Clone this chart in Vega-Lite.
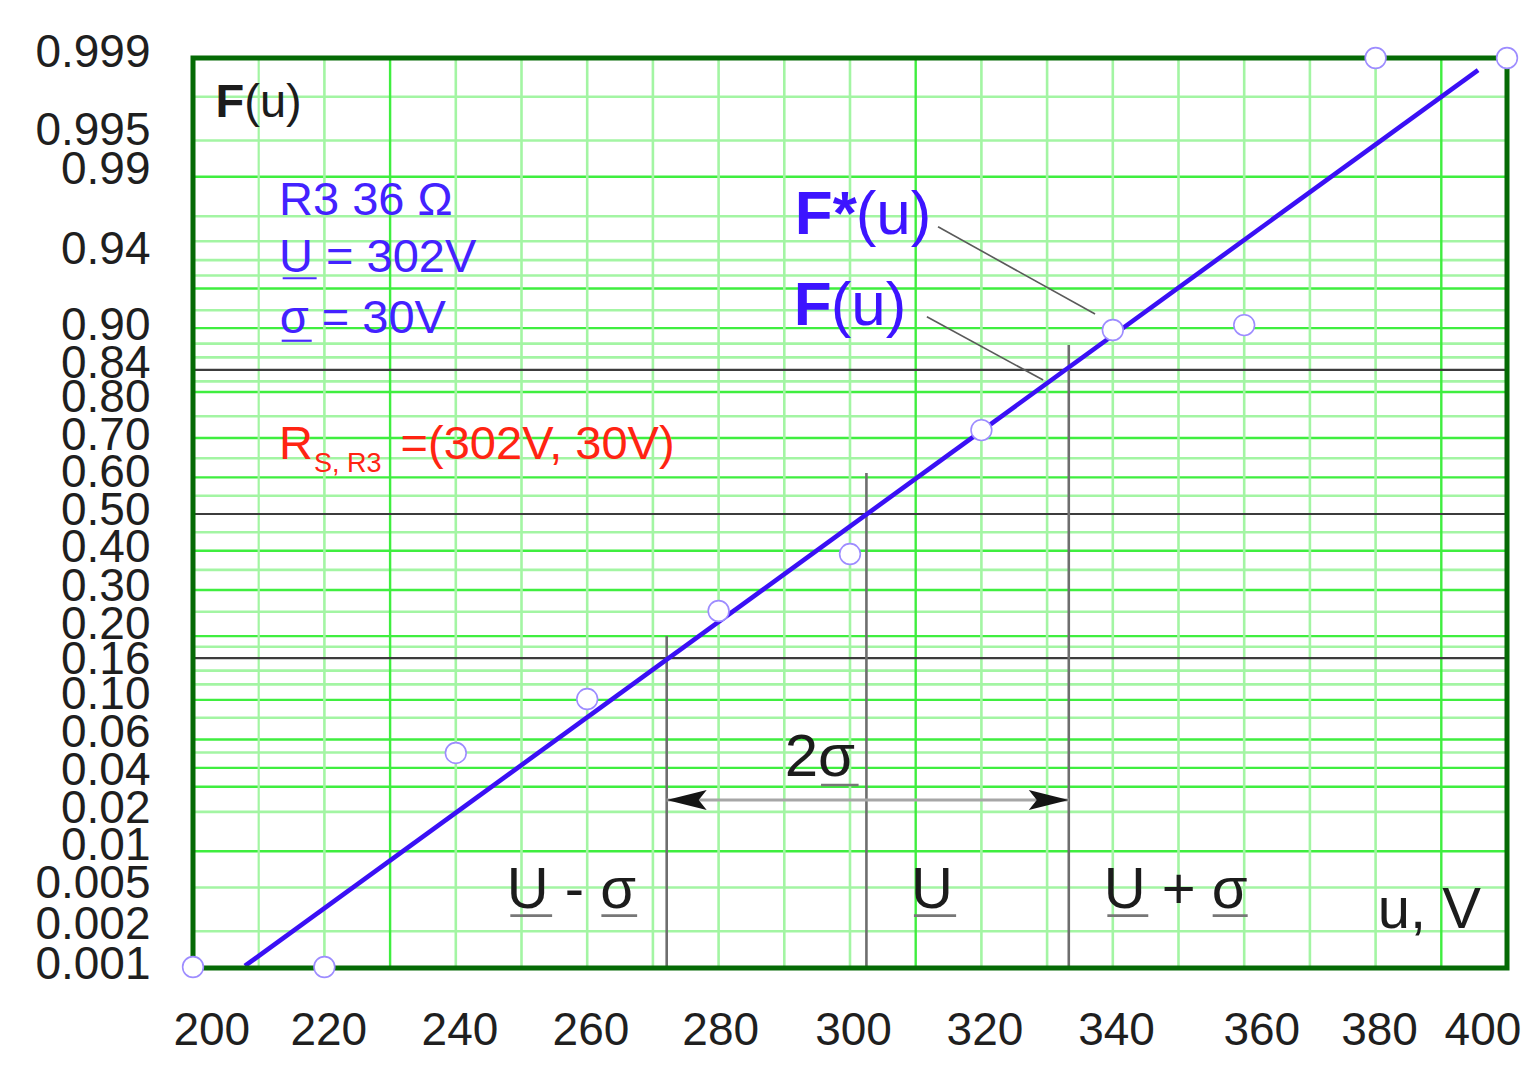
{
  "$schema": "https://vega.github.io/schema/vega-lite/v6.json",
  "width": 1314,
  "height": 910,
  "autosize": {"type": "none"},
  "padding": {"left": 193, "top": 58, "right": 32, "bottom": 107},
  "background": "white",
  "config": {
    "view": {"stroke": null},
    "font": "Liberation Sans",
    "axis": {"grid": false, "domain": false, "ticks": false, "tickSize": 0, "labelFont": "Liberation Sans", "labelFontSize": 46, "labelColor": "#1f1f1f", "labelFlush": false, "labelOverlap": false, "labelBound": false},
    "axisX": {"labelPadding": 40},
    "axisY": {"labelPadding": 43}
  },
  "datasets": {
    "hgrid": [
      {"p": 0.002, "z": -2.878, "tier": "minor"},
      {"p": 0.005, "z": -2.576, "tier": "minor"},
      {"p": 0.01, "z": -2.326, "tier": "major"},
      {"p": 0.02, "z": -2.054, "tier": "minor"},
      {"p": 0.03, "z": -1.881, "tier": "major"},
      {"p": 0.04, "z": -1.751, "tier": "major"},
      {"p": 0.05, "z": -1.645, "tier": "minor"},
      {"p": 0.06, "z": -1.555, "tier": "major"},
      {"p": 0.08, "z": -1.405, "tier": "minor"},
      {"p": 0.10, "z": -1.282, "tier": "major"},
      {"p": 0.12, "z": -1.175, "tier": "minor"},
      {"p": 0.14, "z": -1.08, "tier": "minor"},
      {"p": 0.18, "z": -0.915, "tier": "minor"},
      {"p": 0.20, "z": -0.842, "tier": "major"},
      {"p": 0.25, "z": -0.674, "tier": "minor"},
      {"p": 0.30, "z": -0.524, "tier": "major"},
      {"p": 0.35, "z": -0.385, "tier": "minor"},
      {"p": 0.40, "z": -0.253, "tier": "major"},
      {"p": 0.45, "z": -0.126, "tier": "minor"},
      {"p": 0.55, "z": 0.126, "tier": "minor"},
      {"p": 0.60, "z": 0.253, "tier": "major"},
      {"p": 0.65, "z": 0.385, "tier": "minor"},
      {"p": 0.70, "z": 0.524, "tier": "major"},
      {"p": 0.75, "z": 0.674, "tier": "minor"},
      {"p": 0.80, "z": 0.842, "tier": "major"},
      {"p": 0.82, "z": 0.915, "tier": "minor"},
      {"p": 0.86, "z": 1.08, "tier": "minor"},
      {"p": 0.88, "z": 1.175, "tier": "minor"},
      {"p": 0.90, "z": 1.282, "tier": "major"},
      {"p": 0.92, "z": 1.405, "tier": "minor"},
      {"p": 0.94, "z": 1.555, "tier": "major"},
      {"p": 0.95, "z": 1.645, "tier": "minor"},
      {"p": 0.96, "z": 1.751, "tier": "minor"},
      {"p": 0.97, "z": 1.881, "tier": "minor"},
      {"p": 0.98, "z": 2.054, "tier": "minor"},
      {"p": 0.99, "z": 2.326, "tier": "major"},
      {"p": 0.995, "z": 2.576, "tier": "minor"},
      {"p": 0.998, "z": 2.878, "tier": "minor"}
    ],
    "vgrid": [
      {"u": 210, "tier": "dark"},
      {"u": 220, "tier": "minor"},
      {"u": 230, "tier": "major"},
      {"u": 240, "tier": "minor"},
      {"u": 250, "tier": "minor"},
      {"u": 260, "tier": "minor"},
      {"u": 270, "tier": "minor"},
      {"u": 280, "tier": "minor"},
      {"u": 290, "tier": "minor"},
      {"u": 300, "tier": "minor"},
      {"u": 310, "tier": "major"},
      {"u": 320, "tier": "minor"},
      {"u": 330, "tier": "minor"},
      {"u": 340, "tier": "minor"},
      {"u": 350, "tier": "minor"},
      {"u": 360, "tier": "minor"},
      {"u": 370, "tier": "minor"},
      {"u": 380, "tier": "minor"},
      {"u": 390, "tier": "major"}
    ],
    "refh": [
      {"p": 0.16, "z": -0.994},
      {"p": 0.5, "z": 0},
      {"p": 0.84, "z": 0.994}
    ],
    "refv": [
      {"name": "U - σ", "u": 272.1, "ztop": -0.841},
      {"name": "U", "u": 302.5, "ztop": 0.283},
      {"name": "U + σ", "u": 333.3, "ztop": 1.166}
    ],
    "arrow": [{"u": 272.1, "u2": 333.3, "z": -1.972}],
    "heads": [
      {"u": 272.1, "z": -1.972, "end": "left"},
      {"u": 333.3, "z": -1.972, "end": "right"}
    ],
    "leaders": [
      {"name": "F*(u)", "u": 313.4, "z": 1.981, "u2": 337.3, "z2": 1.379},
      {"name": "F(u)", "u": 311.7, "z": 1.361, "u2": 329.4, "z2": 0.924}
    ],
    "ulBlue": [
      {"u": 213.65, "u2": 218.82, "z": 1.626},
      {"u": 213.5, "u2": 218.07, "z": 1.195}
    ],
    "ulGray": [
      {"u": 295.59, "u2": 301.31, "z": -1.869},
      {"u": 248.3, "u2": 254.66, "z": -2.77},
      {"u": 262.16, "u2": 267.6, "z": -2.77},
      {"u": 309.73, "u2": 316.15, "z": -2.77},
      {"u": 339.17, "u2": 345.4, "z": -2.77},
      {"u": 355.2, "u2": 360.53, "z": -2.77}
    ],
    "fit": [
      {"u": 207.9, "z": -3.117},
      {"u": 395.6, "z": 3.062}
    ],
    "points": [
      {"u": 200, "F": 0.001, "z": -3.124},
      {"u": 220, "F": 0.001, "z": -3.124},
      {"u": 240, "F": 0.05, "z": -1.648},
      {"u": 260, "F": 0.10, "z": -1.276},
      {"u": 280, "F": 0.25, "z": -0.669},
      {"u": 300, "F": 0.39, "z": -0.276},
      {"u": 320, "F": 0.72, "z": 0.579},
      {"u": 340, "F": 0.90, "z": 1.269},
      {"u": 360, "F": 0.905, "z": 1.303},
      {"u": 380, "F": 0.999, "z": 3.145},
      {"u": 400, "F": 0.999, "z": 3.145}
    ],
    "tBlackBold47": [{"text": "F", "u": 203.44, "z": 2.736}],
    "tBlack47": [{"text": "(u)", "u": 207.81, "z": 2.736}],
    "tBlue46": [
      {"text": "R3 36 Ω", "u": 213.09, "z": 2.062},
      {"text": "U = 302V", "u": 213.09, "z": 1.671},
      {"text": "σ = 30V", "u": 213.2, "z": 1.248}
    ],
    "tRed46": [
      {"text": "R", "u": 213.09, "z": 0.377},
      {"text": "=(302V, 30V)", "u": 231.6, "z": 0.377}
    ],
    "tRed26": [{"text": "S, R3", "u": 218.42, "z": 0.292}],
    "tBlueBold62": [
      {"text": "F*", "u": 291.6, "z": 1.931},
      {"text": "F", "u": 291.45, "z": 1.303}
    ],
    "tBlue62": [
      {"text": "(u)", "u": 300.87, "z": 1.931},
      {"text": "(u)", "u": 297.06, "z": 1.303}
    ],
    "tBlack60": [{"text": "2σ", "u": 290.05, "z": -1.807}],
    "tBlack58": [
      {"text": "U - σ", "u": 247.76, "z": -2.72},
      {"text": "U", "u": 309.27, "z": -2.72},
      {"text": "U + σ", "u": 338.62, "z": -2.72},
      {"text": "u, V", "u": 380.32, "z": -2.857}
    ]
  },
  "layer": [
    {
      "data": {"name": "points"},
      "mark": {"type": "point", "opacity": 0},
      "encoding": {
        "x": {
          "field": "u", "type": "quantitative", "title": null,
          "scale": {"domain": [200, 400], "nice": false, "zero": false},
          "axis": {
            "title": null, "orient": "bottom",
            "values": [202.79, 220.59, 240.56, 260.49, 280.24, 300.46, 320.47, 340.49, 362.6, 380.52, 396.27],
            "labelExpr": "format(round(datum.value / 20) * 20, 'd')"
          }
        },
        "y": {
          "field": "z", "type": "quantitative", "title": null,
          "scale": {"domain": [-3.131, 3.145], "nice": false, "zero": false},
          "axis": {
            "title": null, "orient": "left",
            "labelBaseline": {"condition": {"test": "datum.value > 3", "value": "alphabetic"}, "value": "middle"},
            "values": [3.083, 2.648, 2.377, 1.821, 1.303, 1.039, 0.802, 0.542, 0.283, 0.023, -0.234, -0.499, -0.763, -1.005, -1.244, -1.51, -1.772, -2.03, -2.288, -2.55, -2.828, -3.106],
            "labelExpr": "['0.999','0.995','0.99','0.94','0.90','0.84','0.80','0.70','0.60','0.50','0.40','0.30','0.20','0.16','0.10','0.06','0.04','0.02','0.01','0.005','0.002','0.001'][indexof([3.083, 2.648, 2.377, 1.821, 1.303, 1.039, 0.802, 0.542, 0.283, 0.023, -0.234, -0.499, -0.763, -1.005, -1.244, -1.51, -1.772, -2.03, -2.288, -2.55, -2.828, -3.106], datum.value)]"
          }
        }
      }
    },
    {
      "data": {"name": "hgrid"},
      "mark": {"type": "rule"},
      "encoding": {
        "y": {"field": "z", "type": "quantitative", "title": null, "scale": {"domain": [-3.131, 3.145], "nice": false, "zero": false}},
        "color": {"field": "tier", "type": "nominal", "scale": {"domain": ["minor", "major"], "range": ["#a3f5a3", "#3fee3f"]}, "legend": null},
        "strokeWidth": {"field": "tier", "type": "nominal", "scale": {"domain": ["minor", "major"], "range": [2.6, 2.2]}, "legend": null}
      }
    },
    {
      "data": {"name": "vgrid"},
      "mark": {"type": "rule"},
      "encoding": {
        "x": {"field": "u", "type": "quantitative", "title": null, "scale": {"domain": [200, 400], "nice": false, "zero": false}},
        "color": {"field": "tier", "type": "nominal", "scale": {"domain": ["minor", "major", "dark"], "range": ["#a3f5a3", "#3fee3f", "#4f9f4f"]}, "legend": null},
        "strokeWidth": {"field": "tier", "type": "nominal", "scale": {"domain": ["minor", "major", "dark"], "range": [2.6, 2.2, 2.4]}, "legend": null}
      }
    },
    {
      "data": {"name": "refh"},
      "mark": {"type": "rule", "color": "#3c3c3c", "strokeWidth": 2.2},
      "encoding": {
        "y": {"field": "z", "type": "quantitative", "title": null, "scale": {"domain": [-3.131, 3.145], "nice": false, "zero": false}}
      }
    },
    {
      "data": {"name": "refv"},
      "mark": {"type": "rule", "color": "#6e6e6e", "strokeWidth": 2.6},
      "encoding": {
        "x": {"field": "u", "type": "quantitative", "title": null, "scale": {"domain": [200, 400], "nice": false, "zero": false}},
        "y": {"field": "ztop", "type": "quantitative", "title": null, "scale": {"domain": [-3.131, 3.145], "nice": false, "zero": false}},
        "y2": {"datum": -3.131}
      }
    },
    {
      "data": {"name": "arrow"},
      "mark": {"type": "rule", "color": "#a6a6a6", "strokeWidth": 3},
      "encoding": {
        "x": {"field": "u", "type": "quantitative", "title": null, "scale": {"domain": [200, 400], "nice": false, "zero": false}},
        "x2": {"field": "u2"},
        "y": {"field": "z", "type": "quantitative", "title": null, "scale": {"domain": [-3.131, 3.145], "nice": false, "zero": false}}
      }
    },
    {
      "data": {"name": "heads"},
      "mark": {"type": "point", "filled": true, "color": "#151515", "opacity": 1, "size": 1600},
      "encoding": {
        "x": {"field": "u", "type": "quantitative", "title": null, "scale": {"domain": [200, 400], "nice": false, "zero": false}},
        "y": {"field": "z", "type": "quantitative", "title": null, "scale": {"domain": [-3.131, 3.145], "nice": false, "zero": false}},
        "shape": {"field": "end", "type": "nominal", "scale": {"domain": ["left", "right"], "range": ["M0,0L2,-0.5L1.6,0L2,0.5Z", "M0,0L-2,-0.5L-1.6,0L-2,0.5Z"]}, "legend": null}
      }
    },
    {
      "data": {"name": "leaders"},
      "mark": {"type": "rule", "color": "#5a5a5a", "strokeWidth": 1.6},
      "encoding": {
        "x": {"field": "u", "type": "quantitative", "title": null, "scale": {"domain": [200, 400], "nice": false, "zero": false}},
        "x2": {"field": "u2"},
        "y": {"field": "z", "type": "quantitative", "title": null, "scale": {"domain": [-3.131, 3.145], "nice": false, "zero": false}},
        "y2": {"field": "z2"}
      }
    },
    {
      "data": {"name": "ulBlue"},
      "mark": {"type": "rule", "color": "#4a2cff", "strokeWidth": 2.2},
      "encoding": {
        "x": {"field": "u", "type": "quantitative", "title": null, "scale": {"domain": [200, 400], "nice": false, "zero": false}},
        "x2": {"field": "u2"},
        "y": {"field": "z", "type": "quantitative", "title": null, "scale": {"domain": [-3.131, 3.145], "nice": false, "zero": false}}
      }
    },
    {
      "data": {"name": "ulGray"},
      "mark": {"type": "rule", "color": "#777777", "strokeWidth": 2.6},
      "encoding": {
        "x": {"field": "u", "type": "quantitative", "title": null, "scale": {"domain": [200, 400], "nice": false, "zero": false}},
        "x2": {"field": "u2"},
        "y": {"field": "z", "type": "quantitative", "title": null, "scale": {"domain": [-3.131, 3.145], "nice": false, "zero": false}}
      }
    },
    {
      "data": {"name": "fit"},
      "mark": {"type": "line", "color": "#3a10f5", "strokeWidth": 4.6},
      "encoding": {
        "x": {"field": "u", "type": "quantitative", "title": null, "scale": {"domain": [200, 400], "nice": false, "zero": false}},
        "y": {"field": "z", "type": "quantitative", "title": null, "scale": {"domain": [-3.131, 3.145], "nice": false, "zero": false}}
      }
    },
    {
      "data": {"values": [{}]},
      "mark": {"type": "rect", "filled": false, "stroke": "#056a05", "strokeWidth": 5},
      "encoding": {
        "x": {"datum": 200, "type": "quantitative", "title": null, "scale": {"domain": [200, 400], "nice": false, "zero": false}},
        "x2": {"datum": 400},
        "y": {"datum": -3.131, "type": "quantitative", "title": null, "scale": {"domain": [-3.131, 3.145], "nice": false, "zero": false}},
        "y2": {"datum": 3.145}
      }
    },
    {
      "data": {"name": "points"},
      "mark": {"type": "point", "filled": true, "fill": "white", "stroke": "#9d8cff", "strokeWidth": 1.6, "opacity": 1, "size": 430},
      "encoding": {
        "x": {"field": "u", "type": "quantitative", "title": null, "scale": {"domain": [200, 400], "nice": false, "zero": false}},
        "y": {"field": "z", "type": "quantitative", "title": null, "scale": {"domain": [-3.131, 3.145], "nice": false, "zero": false}}
      }
    },
    {
      "data": {"name": "tBlackBold47"},
      "mark": {"type": "text", "align": "left", "baseline": "alphabetic", "font": "Liberation Sans", "fontSize": 47, "fontWeight": "bold", "color": "#1c1c1c"},
      "encoding": {
        "x": {"field": "u", "type": "quantitative", "title": null, "scale": {"domain": [200, 400], "nice": false, "zero": false}},
        "y": {"field": "z", "type": "quantitative", "title": null, "scale": {"domain": [-3.131, 3.145], "nice": false, "zero": false}},
        "text": {"field": "text"}
      }
    },
    {
      "data": {"name": "tBlack47"},
      "mark": {"type": "text", "align": "left", "baseline": "alphabetic", "font": "Liberation Sans", "fontSize": 47, "color": "#1c1c1c"},
      "encoding": {
        "x": {"field": "u", "type": "quantitative", "title": null, "scale": {"domain": [200, 400], "nice": false, "zero": false}},
        "y": {"field": "z", "type": "quantitative", "title": null, "scale": {"domain": [-3.131, 3.145], "nice": false, "zero": false}},
        "text": {"field": "text"}
      }
    },
    {
      "data": {"name": "tBlue46"},
      "mark": {"type": "text", "align": "left", "baseline": "alphabetic", "font": "Liberation Sans", "fontSize": 47, "color": "#4322ff"},
      "encoding": {
        "x": {"field": "u", "type": "quantitative", "title": null, "scale": {"domain": [200, 400], "nice": false, "zero": false}},
        "y": {"field": "z", "type": "quantitative", "title": null, "scale": {"domain": [-3.131, 3.145], "nice": false, "zero": false}},
        "text": {"field": "text"}
      }
    },
    {
      "data": {"name": "tRed46"},
      "mark": {"type": "text", "align": "left", "baseline": "alphabetic", "font": "Liberation Sans", "fontSize": 47, "color": "#ff2412"},
      "encoding": {
        "x": {"field": "u", "type": "quantitative", "title": null, "scale": {"domain": [200, 400], "nice": false, "zero": false}},
        "y": {"field": "z", "type": "quantitative", "title": null, "scale": {"domain": [-3.131, 3.145], "nice": false, "zero": false}},
        "text": {"field": "text"}
      }
    },
    {
      "data": {"name": "tRed26"},
      "mark": {"type": "text", "align": "left", "baseline": "alphabetic", "font": "Liberation Sans", "fontSize": 27, "color": "#ff2412"},
      "encoding": {
        "x": {"field": "u", "type": "quantitative", "title": null, "scale": {"domain": [200, 400], "nice": false, "zero": false}},
        "y": {"field": "z", "type": "quantitative", "title": null, "scale": {"domain": [-3.131, 3.145], "nice": false, "zero": false}},
        "text": {"field": "text"}
      }
    },
    {
      "data": {"name": "tBlueBold62"},
      "mark": {"type": "text", "align": "left", "baseline": "alphabetic", "font": "Liberation Sans", "fontSize": 62, "fontWeight": "bold", "color": "#3d14ff"},
      "encoding": {
        "x": {"field": "u", "type": "quantitative", "title": null, "scale": {"domain": [200, 400], "nice": false, "zero": false}},
        "y": {"field": "z", "type": "quantitative", "title": null, "scale": {"domain": [-3.131, 3.145], "nice": false, "zero": false}},
        "text": {"field": "text"}
      }
    },
    {
      "data": {"name": "tBlue62"},
      "mark": {"type": "text", "align": "left", "baseline": "alphabetic", "font": "Liberation Sans", "fontSize": 62, "color": "#3d14ff"},
      "encoding": {
        "x": {"field": "u", "type": "quantitative", "title": null, "scale": {"domain": [200, 400], "nice": false, "zero": false}},
        "y": {"field": "z", "type": "quantitative", "title": null, "scale": {"domain": [-3.131, 3.145], "nice": false, "zero": false}},
        "text": {"field": "text"}
      }
    },
    {
      "data": {"name": "tBlack60"},
      "mark": {"type": "text", "align": "left", "baseline": "alphabetic", "font": "Liberation Sans", "fontSize": 60, "color": "#1c1c1c"},
      "encoding": {
        "x": {"field": "u", "type": "quantitative", "title": null, "scale": {"domain": [200, 400], "nice": false, "zero": false}},
        "y": {"field": "z", "type": "quantitative", "title": null, "scale": {"domain": [-3.131, 3.145], "nice": false, "zero": false}},
        "text": {"field": "text"}
      }
    },
    {
      "data": {"name": "tBlack58"},
      "mark": {"type": "text", "align": "left", "baseline": "alphabetic", "font": "Liberation Sans", "fontSize": 58, "color": "#1c1c1c"},
      "encoding": {
        "x": {"field": "u", "type": "quantitative", "title": null, "scale": {"domain": [200, 400], "nice": false, "zero": false}},
        "y": {"field": "z", "type": "quantitative", "title": null, "scale": {"domain": [-3.131, 3.145], "nice": false, "zero": false}},
        "text": {"field": "text"}
      }
    }
  ]
}
